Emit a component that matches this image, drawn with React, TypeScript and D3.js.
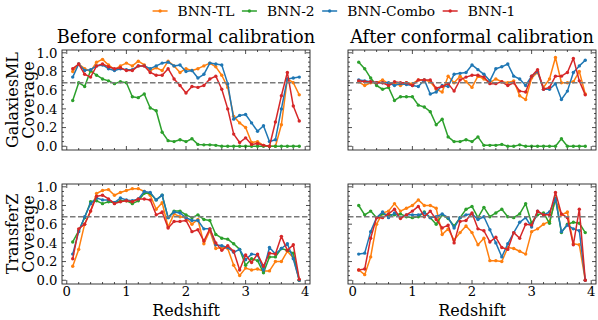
import React, { useEffect, useRef } from "react";
import * as d3 from "d3";

// redshift bins (bin centres)
const redshift = [
  0.1, 0.2, 0.3, 0.4, 0.5, 0.6, 0.7, 0.8, 0.9, 1.0,
  1.1, 1.2, 1.3, 1.4, 1.5, 1.6, 1.7, 1.8, 1.9, 2.0,
  2.1, 2.2, 2.3, 2.4, 2.5, 2.6, 2.7, 2.8, 2.9, 3.0,
  3.1, 3.2, 3.3, 3.4, 3.5, 3.6, 3.7, 3.8, 3.9,
];

const seriesNames = ["BNN-TL", "BNN-2", "BNN-Combo", "BNN-1"];
const seriesColors = ["#ff7f0e", "#2ca02c", "#1f77b4", "#d62728"];
const columnTitles = ["Before conformal calibration", "After conformal calibration"];
const rowLabels = ["GalaxiesML", "TransferZ"];
const yTicks = [0, 0.2, 0.4, 0.6, 0.8, 1.0];
const xTicks = [0, 1, 2, 3, 4];
const targetCoverage = 0.68;

// GalaxiesML, before calibration
const gmlBeforeTL = [0.80, 0.88, 0.83, 0.80, 0.90, 0.93, 0.87, 0.82, 0.86, 0.89, 0.86, 0.91, 0.87, 0.81, 0.84, 0.81, 0.91, 0.86, 0.79, 0.83, 0.81, 0.83, 0.86, 0.89, 0.85, 0.76, 0.63, 0.32, 0.25, 0.20, 0.04, 0.05, 0.01, 0.00, 0.00, 0.23, 0.72, 0.68, 0.55];
const gmlBefore2 = [0.49, 0.68, 0.64, 0.81, 0.76, 0.72, 0.70, 0.67, 0.69, 0.68, 0.53, 0.52, 0.56, 0.41, 0.38, 0.15, 0.06, 0.05, 0.07, 0.05, 0.08, 0.02, 0.015, 0.015, 0.01, 0, 0, 0, 0, 0, 0, 0, 0, 0, 0, 0, 0, 0, 0];
const gmlBeforeCombo = [0.74, 0.88, 0.81, 0.82, 0.86, 0.87, 0.83, 0.81, 0.83, 0.82, 0.82, 0.86, 0.86, 0.83, 0.86, 0.89, 0.90, 0.86, 0.87, 0.80, 0.81, 0.73, 0.77, 0.89, 0.88, 0.87, 0.67, 0.29, 0.33, 0.34, 0.25, 0.16, 0.22, 0.05, 0.07, 0.40, 0.72, 0.73, 0.74];
const gmlBefore1 = [0.83, 0.88, 0.77, 0.74, 0.86, 0.88, 0.85, 0.83, 0.84, 0.81, 0.81, 0.86, 0.86, 0.79, 0.76, 0.76, 0.83, 0.72, 0.65, 0.57, 0.64, 0.63, 0.65, 0.72, 0.75, 0.61, 0.40, 0.13, 0.04, 0.09, 0.02, 0.03, 0.01, 0.00, 0.26, 0.54, 0.79, 0.43, 0.27];

// GalaxiesML, after calibration
const gmlAfterTL = [0.69, 0.65, 0.68, 0.68, 0.71, 0.67, 0.68, 0.65, 0.68, 0.67, 0.71, 0.71, 0.69, 0.61, 0.58, 0.75, 0.68, 0.75, 0.69, 0.63, 0.75, 0.72, 0.68, 0.72, 0.69, 0.68, 0.70, 0.54, 0.50, 0.73, 0.79, 0.63, 0.72, 0.95, 0.68, 0.68, 0.69, 0.80, 0.56];
const gmlAfter2 = [0.90, 0.83, 0.73, 0.65, 0.61, 0.63, 0.49, 0.53, 0.53, 0.53, 0.44, 0.42, 0.37, 0.23, 0.29, 0.10, 0.05, 0.05, 0.07, 0.05, 0.10, 0.01, 0.01, 0.01, 0.02, 0, 0, 0.015, 0, 0, 0, 0, 0, 0, 0.08, 0, 0, 0, 0];
const gmlAfterCombo = [0.71, 0.70, 0.69, 0.68, 0.68, 0.68, 0.65, 0.67, 0.66, 0.65, 0.64, 0.71, 0.56, 0.58, 0.65, 0.64, 0.77, 0.78, 0.79, 0.87, 0.82, 0.77, 0.70, 0.83, 0.85, 0.88, 0.75, 0.72, 0.65, 0.75, 0.80, 0.61, 0.61, 0.67, 0.50, 0.59, 0.79, 0.86, 0.92];
const gmlAfter1 = [0.70, 0.69, 0.69, 0.68, 0.68, 0.65, 0.69, 0.68, 0.68, 0.65, 0.71, 0.71, 0.71, 0.62, 0.64, 0.67, 0.59, 0.71, 0.74, 0.76, 0.76, 0.74, 0.67, 0.67, 0.69, 0.65, 0.68, 0.59, 0.58, 0.75, 0.82, 0.61, 0.63, 0.75, 0.75, 0.79, 0.94, 0.70, 0.55];

// TransferZ, before calibration
const tzBeforeTL = [0.15, 0.33, 0.60, 0.74, 0.93, 0.96, 0.97, 0.91, 0.94, 0.96, 0.98, 0.98, 0.95, 0.91, 0.76, 0.83, 0.57, 0.71, 0.68, 0.67, 0.60, 0.65, 0.39, 0.53, 0.34, 0.35, 0.34, 0.16, 0.05, 0.13, 0.11, 0.12, 0.10, 0.10, 0.20, 0.20, 0.31, 0.24, 0.00];
const tzBefore2 = [0.41, 0.53, 0.67, 0.84, 0.85, 0.82, 0.84, 0.83, 0.85, 0.85, 0.82, 0.85, 0.93, 0.93, 0.86, 0.91, 0.67, 0.74, 0.74, 0.70, 0.67, 0.70, 0.65, 0.64, 0.49, 0.45, 0.44, 0.39, 0.33, 0.16, 0.23, 0.21, 0.08, 0.25, 0.25, 0.34, 0.32, 0.29, 0.00];
const tzBeforeCombo = [0.28, 0.52, 0.68, 0.82, 0.88, 0.86, 0.86, 0.83, 0.88, 0.86, 0.85, 0.87, 0.95, 0.94, 0.86, 0.91, 0.67, 0.73, 0.72, 0.67, 0.64, 0.64, 0.55, 0.55, 0.38, 0.37, 0.35, 0.30, 0.33, 0.22, 0.28, 0.27, 0.11, 0.35, 0.28, 0.34, 0.39, 0.23, 0.00];
const tzBefore1 = [0.23, 0.55, 0.60, 0.74, 0.90, 0.91, 0.87, 0.82, 0.84, 0.85, 0.84, 0.87, 0.87, 0.86, 0.70, 0.73, 0.56, 0.63, 0.63, 0.64, 0.52, 0.54, 0.42, 0.55, 0.40, 0.32, 0.37, 0.31, 0.11, 0.27, 0.19, 0.28, 0.15, 0.29, 0.28, 0.47, 0.32, 0.38, 0.01];

// TransferZ, after calibration
const tzAfterTL = [0.11, 0.06, 0.25, 0.60, 0.72, 0.74, 0.82, 0.74, 0.77, 0.80, 0.86, 0.80, 0.80, 0.77, 0.49, 0.55, 0.43, 0.51, 0.58, 0.51, 0.38, 0.45, 0.21, 0.21, 0.20, 0.35, 0.34, 0.31, 0.28, 0.52, 0.55, 0.60, 0.63, 0.86, 0.70, 0.73, 0.39, 0.38, 0.00];
const tzAfter2 = [0.80, 0.70, 0.74, 0.67, 0.71, 0.70, 0.70, 0.71, 0.68, 0.67, 0.68, 0.73, 0.67, 0.60, 0.70, 0.66, 0.58, 0.67, 0.76, 0.79, 0.67, 0.78, 0.68, 0.72, 0.76, 0.68, 0.67, 0.71, 0.82, 0.61, 0.70, 0.72, 0.61, 0.88, 0.51, 0.60, 0.62, 0.61, 0.51];
const tzAfterCombo = [0.28, 0.29, 0.52, 0.67, 0.73, 0.67, 0.72, 0.67, 0.70, 0.70, 0.70, 0.72, 0.67, 0.68, 0.71, 0.67, 0.56, 0.67, 0.70, 0.71, 0.65, 0.68, 0.54, 0.40, 0.25, 0.39, 0.51, 0.62, 0.67, 0.57, 0.74, 0.70, 0.73, 0.87, 0.52, 0.59, 0.55, 0.53, 0.00];
const tzAfter1 = [0.11, 0.12, 0.45, 0.67, 0.67, 0.71, 0.76, 0.66, 0.70, 0.74, 0.79, 0.68, 0.74, 0.65, 0.56, 0.59, 0.40, 0.63, 0.64, 0.72, 0.55, 0.53, 0.41, 0.46, 0.35, 0.33, 0.51, 0.45, 0.60, 0.59, 0.74, 0.70, 0.70, 0.94, 0.71, 0.67, 0.38, 0.76, 0.00];

const panels = [
  { row: 0, col: 0, series: [gmlBeforeTL, gmlBefore2, gmlBeforeCombo, gmlBefore1] },
  { row: 0, col: 1, series: [gmlAfterTL, gmlAfter2, gmlAfterCombo, gmlAfter1] },
  { row: 1, col: 0, series: [tzBeforeTL, tzBefore2, tzBeforeCombo, tzBefore1] },
  { row: 1, col: 1, series: [tzAfterTL, tzAfter2, tzAfterCombo, tzAfter1] },
];

const W = 598;
const H = 320;
const colX = [62, 348];
const rowY = [50, 184];
const PW = 248;
const PH = 100;
const FONT = "DejaVu Serif, serif";

const App = () => {
  const svgRef = useRef<SVGSVGElement>(null);

  useEffect(() => {
    const svg = d3.select(svgRef.current);
    svg.selectAll("*").remove();

    const x = d3.scaleLinear().domain([-0.08, 4.08]).range([0, PW]);
    const y = d3.scaleLinear().domain([-0.04, 1.03]).range([PH, 0]);
    const line = d3.line<number>().x((_, i) => x(redshift[i])).y(d => y(d));

    const xMinor = d3.range(0, 4.001, 0.2);
    const yMinor = d3.range(0, 1.001, 0.05);

    panels.forEach(p => {
      const g = svg.append("g")
        .attr("transform", `translate(${colX[p.col]},${rowY[p.row]})`);

      p.series.forEach((vals, k) => {
        g.append("path")
          .datum(vals)
          .attr("fill", "none")
          .attr("stroke", seriesColors[k])
          .attr("stroke-width", 1.5)
          .attr("stroke-linejoin", "round")
          .attr("d", line);
        g.append("g").selectAll("circle")
          .data(vals)
          .enter().append("circle")
          .attr("cx", (_, i) => x(redshift[i]))
          .attr("cy", d => y(d))
          .attr("r", 1.7)
          .attr("fill", seriesColors[k]);
      });

      g.append("line")
        .attr("x1", 0).attr("x2", PW)
        .attr("y1", y(targetCoverage)).attr("y2", y(targetCoverage))
        .attr("stroke", "#7a7a7a")
        .attr("stroke-width", 1.5)
        .attr("stroke-dasharray", "5.5,2.5");

      // ticks, inward on all four sides
      const tick = (x1, y1, x2, y2) =>
        g.append("line")
          .attr("x1", x1).attr("y1", y1).attr("x2", x2).attr("y2", y2)
          .attr("stroke", "#222").attr("stroke-width", 0.8);

      xMinor.forEach(v => {
        const len = xTicks.includes(Math.round(v * 10) / 10) ? 4 : 2;
        tick(x(v), PH, x(v), PH - len);
        tick(x(v), 0, x(v), len);
      });
      yMinor.forEach(v => {
        const r = Math.round(v * 100) / 100;
        const len = yTicks.some(t => Math.abs(t - r) < 1e-6) ? 4 : 2;
        tick(0, y(v), len, y(v));
        tick(PW, y(v), PW - len, y(v));
      });

      g.append("rect")
        .attr("width", PW).attr("height", PH)
        .attr("fill", "none")
        .attr("stroke", "#222")
        .attr("stroke-width", 0.9);

      if (p.col === 0) {
        g.selectAll(".ylab")
          .data(yTicks)
          .enter().append("text")
          .attr("x", -4.5)
          .attr("y", d => y(d))
          .attr("dy", "0.36em")
          .attr("text-anchor", "end")
          .attr("font-family", FONT)
          .attr("font-size", 13.2)
          .text(d => d.toFixed(1));

        const lab = g.append("text")
          .attr("transform", `translate(${-colX[0]},${PH / 2}) rotate(-90)`)
          .attr("text-anchor", "middle")
          .attr("font-family", FONT)
          .attr("font-size", 16);
        lab.append("tspan").attr("x", 0).attr("y", 18).text(rowLabels[p.row]);
        lab.append("tspan").attr("x", 0).attr("y", 33.5).text("Coverage");
      }

      if (p.row === 1) {
        g.selectAll(".xlab")
          .data(xTicks)
          .enter().append("text")
          .attr("x", d => x(d))
          .attr("y", PH + 12)
          .attr("text-anchor", "middle")
          .attr("font-family", FONT)
          .attr("font-size", 13.2)
          .text(d => String(d));
        g.append("text")
          .attr("x", PW / 2)
          .attr("y", PH + 31.5)
          .attr("text-anchor", "middle")
          .attr("font-family", FONT)
          .attr("font-size", 16)
          .text("Redshift");
      } else {
        g.append("text")
          .attr("x", PW / 2)
          .attr("y", -7.5)
          .attr("text-anchor", "middle")
          .attr("font-family", FONT)
          .attr("font-size", 17.7)
          .text(columnTitles[p.col]);
      }
    });

    // legend across the top
    const leg = svg.append("g");
    const handle = 15, gapText = 10, gapItem = 7.5;
    let cursor = 0;
    seriesNames.forEach((name, k) => {
      const item = leg.append("g").attr("transform", `translate(${cursor},0)`);
      item.append("line")
        .attr("x1", 0).attr("x2", handle).attr("y1", 0).attr("y2", 0)
        .attr("stroke", seriesColors[k]).attr("stroke-width", 1.5);
      item.append("circle").attr("cx", handle / 2).attr("cy", 0).attr("r", 1.7)
        .attr("fill", seriesColors[k]);
      const t = item.append("text")
        .attr("x", handle + gapText)
        .attr("y", 0)
        .attr("dy", "0.36em")
        .attr("font-family", FONT)
        .attr("font-size", 13.8)
        .text(name);
      const w = (t.node() as SVGTextElement).getComputedTextLength();
      cursor += handle + gapText + w + gapItem;
    });
    const total = cursor - gapItem;
    leg.attr("transform", `translate(${334 - total / 2},11)`);
  }, []);

  return (
    <div style={{ position: "absolute", left: 0, top: 0 }}>
      <svg ref={svgRef} width={W} height={H} style={{ display: "block", background: "#fff" }} />
    </div>
  );
};

export default App;
